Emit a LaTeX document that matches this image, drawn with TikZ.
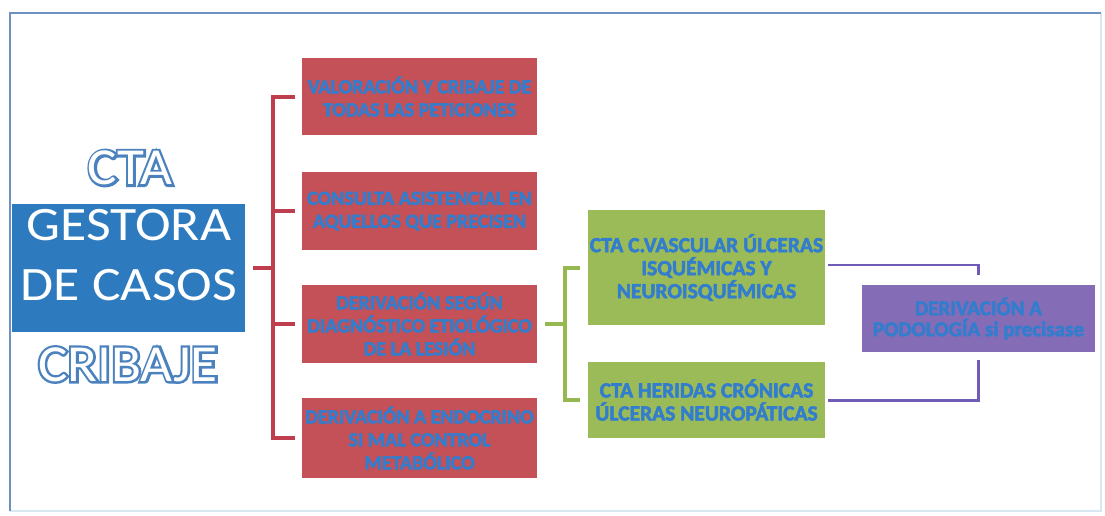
\documentclass[tikz,border=0pt]{standalone}
\usepackage{fontspec}
\setmainfont{Carlito}
\newfontfamily\boxfont[FakeBold=2.5]{Carlito}
\newfontfamily\widefont[FakeStretch=1.12]{Carlito}
\newfontfamily\outlfont[FakeStretch=1.06,FakeBold=9]{Carlito}
\newfontfamily\outlwhite[FakeStretch=1.06]{Carlito}
\definecolor{cred}{RGB}{196,80,88}
\definecolor{credline}{RGB}{190,62,78}
\definecolor{cgreen}{RGB}{155,187,89}
\definecolor{cgreenline}{RGB}{150,184,80}
\definecolor{cpurple}{RGB}{132,108,182}
\definecolor{cpurpleline}{RGB}{112,92,182}
\definecolor{cbluebox}{RGB}{45,122,190}
\definecolor{txtblue}{RGB}{50,125,205}
\definecolor{outl}{RGB}{75,130,190}
\definecolor{framecol}{RGB}{110,145,195}
\definecolor{framelight}{RGB}{215,232,242}
\begin{document}
\begin{tikzpicture}[x=1pt,y=-1pt,
  box/.style={inner sep=0pt, align=center, text=txtblue,
    font=\boxfont\bfseries\fontsize{20}{23}\selectfont},
  redbox/.style={box, fill=cred, minimum width=235pt, minimum height=78pt},
  greenbox/.style={box, fill=cgreen, minimum width=237pt,
    font=\boxfont\bfseries\fontsize{21.5}{23}\selectfont},
  purplebox/.style={box, fill=cpurple, minimum width=233pt, minimum height=67pt,
    font=\boxfont\bfseries\fontsize{21}{21}\selectfont},
  bluebox/.style={fill=cbluebox, minimum width=233pt, minimum height=128pt, inner sep=0pt},
  bigtxt/.style={inner sep=0pt, align=center, text=white, font=\widefont\fontsize{48}{60}\selectfont},
  olt/.style={inner sep=0pt, text=outl, font=\outlfont\fontsize{52}{54}\selectfont},
  olw/.style={inner sep=0pt, text=white, font=\outlwhite\fontsize{52}{54}\selectfont},
  redline/.style={draw=credline, line width=4pt},
  greenline/.style={draw=cgreenline, line width=4pt},
  purpleline/.style={draw=cpurpleline, line width=3pt},
  framestyle/.style={draw=framecol, line width=1.5pt},
  framestyle2/.style={draw=framelight, line width=1.5pt}]
\useasboundingbox (0,0) rectangle (1105,515);
\draw[framestyle2] (1101,13) -- (1101,511) -- (10,511);
\draw[framestyle] (10,511) -- (10,13) -- (1101,13);

% left block
\node[bluebox] (gestora) at (128.5,268) {};
\node[bigtxt] (gestoratxt) at (129,255) {GESTORA\\DE CASOS};
\node[olt] (ctao) at (130,168) {CTA};
\node[olw] (cta) at (130,168) {CTA};
\node[olt] (cribo) at (128,364.5) {CRIBAJE};
\node[olw] (criba) at (128,364.5) {CRIBAJE};

% red boxes
\node[redbox, minimum height=77pt] (r1) at (419.5,96.5) {VALORACIÓN Y CRIBAJE DE\\TODAS LAS PETICIONES};
\node[redbox] (r2) at (419.5,211) {CONSULTA ASISTENCIAL EN\\AQUELLOS QUE PRECISEN};
\node[redbox] (r3) at (419.5,324) {DERIVACIÓN SEGÚN\\DIAGNÓSTICO ETIOLÓGICO\\DE LA LESIÓN};
\node[redbox, minimum height=80pt] (r4) at (419.5,438) {DERIVACIÓN A ENDOCRINO\\SI MAL CONTROL\\METABÓLICO};

% green boxes
\node[greenbox, minimum height=115pt] (g1) at (706.5,267.5) {CTA C.VASCULAR ÚLCERAS\\ISQUÉMICAS Y\\NEUROISQUÉMICAS};
\node[greenbox, minimum height=76pt] (g2) at (706.5,400) {CTA HERIDAS CRÓNICAS\\ÚLCERAS NEUROPÁTICAS};

% purple box
\node[purplebox] (p) at (978.5,318.5) {DERIVACIÓN A\\PODOLOGÍA si precisase};

% red bracket
\coordinate (rj) at (273,268);
\draw[redline] ([xshift=8pt]gestora.east) -- (rj);
\draw[redline] ([xshift=-7pt]r1.west) -- (273,96.5) -- (273,438) -- ([xshift=-7pt]r4.west);
\draw[redline] (273,211) -- ([xshift=-7pt]r2.west);
\draw[redline] (273,324) -- ([xshift=-7pt]r3.west);

% green bracket
\coordinate (gj) at (565,324);
\draw[greenline] ([xshift=8pt]r3.east) -- (gj);
\draw[greenline] ([xshift=-8pt]g1.west) -- (565,267.5) -- (565,400) -- ([xshift=-8pt]g2.west);

% purple connectors
\draw[purpleline, line width=2.2pt] ([xshift=3pt,yshift=2.5pt]g1.east) -| ([yshift=10pt]p.north);
\draw[purpleline] ([xshift=3pt]g2.east) -| ([yshift=-8pt]p.south);
\end{tikzpicture}
\end{document}
